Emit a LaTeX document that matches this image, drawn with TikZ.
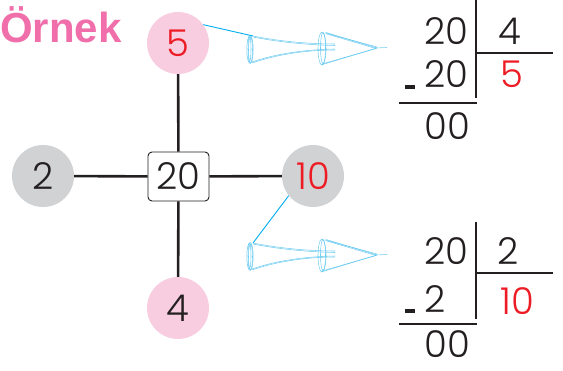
\documentclass[tikz,border=0pt]{standalone}
\usepackage{fontspec}
\newfontfamily\dig{Poppins Light}
\newfontfamily\hd{Liberation Sans}
\definecolor{pinkT}{RGB}{240,110,170}
\definecolor{pinkC}{RGB}{248,205,224}
\definecolor{grayC}{RGB}{209,210,212}
\definecolor{redT}{RGB}{237,28,36}
\definecolor{blueL}{RGB}{0,174,239}
\definecolor{blueS}{RGB}{100,200,240}
\definecolor{ink}{RGB}{35,31,32}
\tikzset{
  sketcharrow/.pic={
    % tail
    \draw[sk] (-3,13.5) ellipse [x radius=3.2, y radius=14];
    \draw[sk] (-2.5,14) ellipse [x radius=2.0, y radius=13];
    \draw[sk] (-3.5,13) ellipse [x radius=1.5, y radius=12.5];
    % shaft
    \draw[sk] (0,0) .. controls (30,6) and (60,8) .. (82,8);
    \draw[sk] (0,1) .. controls (30,7) and (60,9) .. (82,9.5);
    \draw[sk] (-1,27) .. controls (25,18) and (55,14) .. (82,14);
    \draw[sk] (-1,26) .. controls (25,17) and (55,13.5) .. (82,13);
    % head
    \draw[sk] (69,12.5) ellipse [x radius=4, y radius=16.5];
    \draw[sk] (70,12) ellipse [x radius=2.5, y radius=15.5];
    \draw[sk] (73,-3.5) -- (124,12);
    \draw[sk] (74,-2) -- (123,12.5);
    \draw[sk] (72,-3) -- (124,11);
    \draw[sk] (68,29) -- (124,12);
    \draw[sk] (69,28) -- (123,12.5);
    \draw[sk] (122,12) -- (134,11.5);
  }
}
\begin{document}
\begin{tikzpicture}[x=1pt,y=-1pt,
  num/.style={font=\dig\fontsize{37}{37}\selectfont, text=ink, inner sep=0},
  rnum/.style={num, text=redT},
  ball/.style={circle, minimum size=62, inner sep=0, num},
  stick/.style={line width=2.6pt, draw=ink},
  rulel/.style={line width=2.4pt, draw=ink},
  sk/.style={draw=blueS, line width=0.55pt, opacity=0.9},
  lead/.style={draw=blueL, line width=0.9pt},
  minus/.style={fill=ink, minimum width=10.5, minimum height=3.5, inner sep=0}
]
\useasboundingbox (0,0) rectangle (563,371);

\node[font=\hd\bfseries\fontsize{42}{42}\selectfont, text=pinkT, anchor=base west, inner sep=0] (title) at (0,43) {Örnek};

\node[ball, fill=pinkC, text=redT] (n5) at (178,43) {5};
\node[ball, fill=grayC] (n2) at (43,176) {2};
\node[ball, fill=grayC, text=redT] (n10) at (313,176) {10};
\node[ball, fill=pinkC] (n4) at (178,308) {4};
\node[draw=ink, line width=0.9pt, rounded corners=4pt, minimum width=61, minimum height=49, num] (box) at (178.5,176.5) {20};

\draw[stick] (n5) -- (box);
\draw[stick] (box) -- (n4);
\draw[stick] (n2) -- (box);
\draw[stick] (box) -- (n10);

\coordinate (a1) at (253,36);
\coordinate (a2) at (253,243);
\pic at (a1) {sketcharrow};
\pic at (a2) {sketcharrow};
\draw[lead] (n5.36) -- (a1);
\draw[lead] (n10.219) -- (a2);

% division 1
\node[num, anchor=base] (d1a) at (446,45) {20};
\node[num, anchor=base] (d1b) at (510,45) {4};
\node[rnum, anchor=base] (d1q) at (512,88) {5};
\node[num, anchor=base] (d1c) at (446.5,88) {20};
\node[minus] (d1m) at (410,87) {};
\node[num, anchor=base] (d1r) at (447,140) {00};
\draw[rulel] (476,0) -- (476,98);
\draw[rulel] (476,53) -- (553,53);
\draw[rulel] (399,103) -- (477,103);

% division 2
\node[num, anchor=base] (d2a) at (446,265) {20};
\node[num, anchor=base] (d2b) at (508.5,265) {2};
\node[rnum, anchor=base] (d2q) at (517.5,315) {10};
\node[num, anchor=base] (d2c) at (435,313) {2};
\node[minus] (d2m) at (410,311) {};
\node[num, anchor=base] (d2r) at (447,358) {00};
\draw[rulel] (476,222) -- (476,319);
\draw[rulel] (476,273) -- (553,273);
\draw[rulel] (399,324) -- (477,324);
\end{tikzpicture}
\end{document}
